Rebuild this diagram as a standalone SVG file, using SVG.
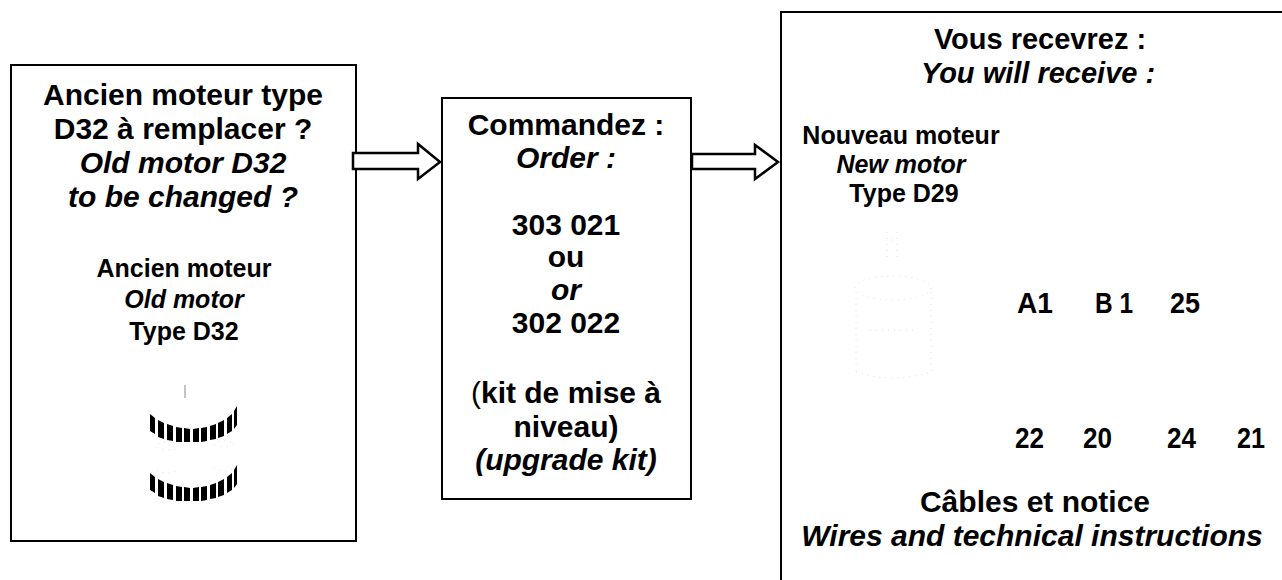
<svg xmlns="http://www.w3.org/2000/svg" width="1282" height="580" viewBox="0 0 1282 580">
<style>
.box{fill:#fff;stroke:#000;stroke-width:2}
.arr{fill:#fff;stroke:#000;stroke-width:2.5;stroke-linejoin:miter}
text{font-family:"Liberation Sans",Arial,sans-serif;font-weight:bold;fill:#000}
.c{text-anchor:middle}
.t30{font-size:30px}
.t29{font-size:29px}
.t25{font-size:25px}
.i{font-style:italic}
.faint{fill:none;stroke:#e2e2e2;stroke-width:1;stroke-dasharray:1 5}
.bar{fill:#000}
</style>
<defs>
<g id="ring">
<polygon class="bar" points="150,414 155,418 155,434 150,431"/>
<polygon class="bar" points="158,420 164,423 164,439 158,437"/>
<polygon class="bar" points="167,424 173,426 173,441 167,440"/>
<polygon class="bar" points="176,427 182,428 182,442 176,442"/>
<polygon class="bar" points="184,428 190,429 190,442 184,442"/>
<polygon class="bar" points="193,429 199,428 199,442 193,442"/>
<polygon class="bar" points="201,428 207,427 207,441 201,442"/>
<polygon class="bar" points="210,426 216,424 216,439 210,440"/>
<polygon class="bar" points="218,423 224,420 224,436 218,438"/>
<polygon class="bar" points="227,418 232,414 232,431 227,434"/>
<polygon class="bar" points="234,411 237,406 237,425 234,429"/>
</g>
</defs>
<rect width="1282" height="580" fill="#fff"/>

<g id="node-old">
<rect class="box" x="11" y="65" width="345" height="476"/>
<text class="c t30" x="183" y="105">Ancien moteur type</text>
<text class="c t30" x="183" y="139">D32 à remplacer ?</text>
<text class="c t30 i" x="183" y="173">Old motor D32</text>
<text class="c t30 i" x="183" y="207">to be changed ?</text>
<text class="c t25" x="184" y="277">Ancien moteur</text>
<text class="c t25 i" x="184" y="308">Old motor</text>
<text class="c t25" x="184" y="340">Type D32</text>
<g id="old-motor-pic">
<line x1="185" y1="385" x2="185" y2="398" stroke="#888" stroke-width="1"/>
<ellipse class="faint" cx="168" cy="446" rx="12" ry="4"/>
<ellipse class="faint" cx="224" cy="444" rx="9" ry="3"/>
<path class="faint" d="M157 470 Q168 476 178 470 M214 468 Q224 474 234 468"/>
<use href="#ring"/>
<use href="#ring" transform="translate(0,59)"/>
</g>
</g>

<g id="node-order">
<rect class="box" x="442" y="98" width="249" height="401"/>
<text class="c t30" x="566" y="135">Commandez :</text>
<text class="c t30 i" x="566" y="168">Order :</text>
<text class="c t30" x="566" y="235">303 021</text>
<text class="c t30" x="566" y="267">ou</text>
<text class="c t30 i" x="566" y="300">or</text>
<text class="c t30" x="566" y="333">302 022</text>
<text class="c t30" x="566" y="403"><tspan font-weight="normal">(</tspan>kit de mise à</text>
<text class="c t30" x="566" y="437">niveau)</text>
<text class="c t30 i" x="566" y="470">(upgrade kit)</text>
</g>

<g id="node-receive">
<rect class="box" x="781" y="12" width="530" height="600"/>
<text class="c t29" x="1040" y="49">Vous recevrez :</text>
<text class="c t29 i" x="1038" y="83">You will receive :</text>
<text class="c t25" x="901" y="144">Nouveau moteur</text>
<text class="c t25 i" x="901" y="173">New motor</text>
<text class="c t25" x="904" y="202">Type D29</text>
<g id="new-motor-pic">
<path class="faint" d="M887 232 L887 262 M897 232 L897 262 M886 240 L898 240"/>
<ellipse class="faint" cx="893" cy="288" rx="38" ry="12"/>
<path class="faint" d="M856 292 L856 372 M931 292 L931 372 M856 372 Q893 384 931 372 M870 330 L915 330"/>
</g>
<text class="t30" x="1017" y="313" textLength="36" lengthAdjust="spacingAndGlyphs">A1</text>
<text class="t30" x="1095" y="313" textLength="38" lengthAdjust="spacingAndGlyphs">B 1</text>
<text class="t30" x="1170" y="313" textLength="30" lengthAdjust="spacingAndGlyphs">25</text>
<text class="t30" x="1015" y="448" textLength="29" lengthAdjust="spacingAndGlyphs">22</text>
<text class="t30" x="1083" y="448" textLength="29" lengthAdjust="spacingAndGlyphs">20</text>
<text class="t30" x="1167" y="448" textLength="29" lengthAdjust="spacingAndGlyphs">24</text>
<text class="t30" x="1237" y="448" textLength="28" lengthAdjust="spacingAndGlyphs">21</text>
<text class="c t30" x="1035" y="512">Câbles et notice</text>
<text class="c t30 i" x="1032" y="546">Wires and technical instructions</text>
</g>

<g id="connectors">
<polygon class="arr" points="353,153 418,153 418,144 440,162 418,179 418,169 353,169"/>
<polygon class="arr" points="692,154 755,154 755,145 778,162 755,179 755,169 692,169"/>
</g>
</svg>
